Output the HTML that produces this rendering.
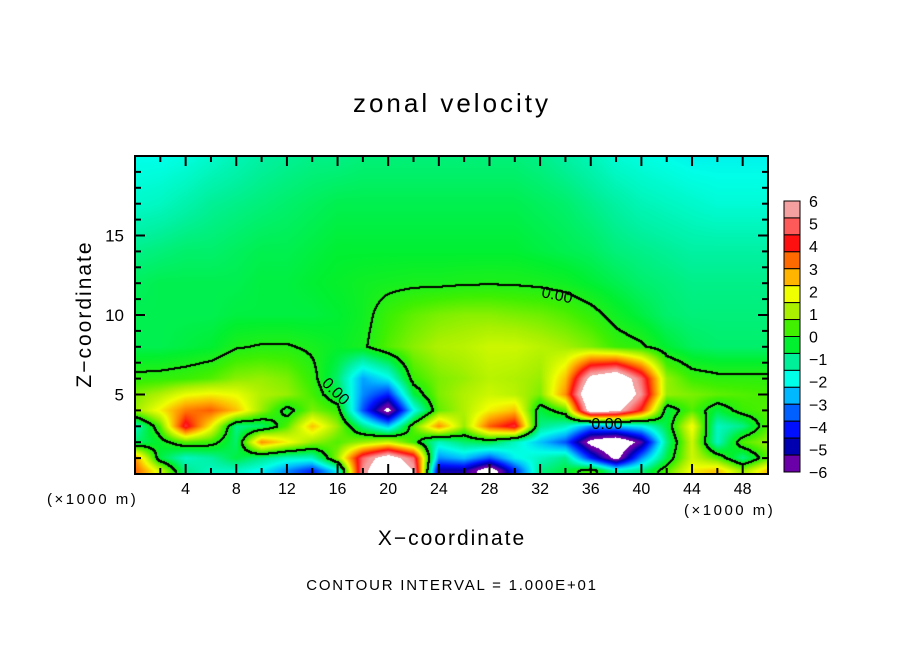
<!DOCTYPE html>
<html><head><meta charset="utf-8">
<style>
body{margin:0;background:#fff;}
#wrap{position:relative;width:904px;height:654px;overflow:hidden;font-family:"Liberation Sans",sans-serif;color:#000;}
.t{position:absolute;white-space:nowrap;}
</style></head>
<body>
<div id="wrap">
<div class="t" style="left:0;width:904px;top:88px;text-align:center;font-size:26px;letter-spacing:3px;">zonal velocity</div>
<canvas id="cv" width="904" height="654" style="position:absolute;left:0;top:0;"></canvas>
<svg id="sv" width="904" height="654" style="position:absolute;left:0;top:0;"></svg>
<div class="t" style="left:47px;top:491px;font-size:15px;letter-spacing:2.5px;">(×1000 m)</div>
<div class="t" style="left:684px;top:502px;font-size:15px;letter-spacing:2.5px;">(×1000 m)</div>
<div class="t" style="left:0;width:904px;text-align:center;top:527px;font-size:21px;letter-spacing:2px;">X−coordinate</div>
<div class="t" style="left:-15px;top:302px;width:200px;text-align:center;font-size:21px;letter-spacing:2px;transform:rotate(-90deg);">Z−coordinate</div>
<div class="t" style="left:0;width:904px;text-align:center;top:577px;font-size:15px;letter-spacing:1.8px;">CONTOUR INTERVAL = 1.000E+01</div>
</div>
<script>
const xCoords=[0,2,4,6,8,10,12,14,16,18,20,22,24,26,28,30,32,34,36,38,40,42,44,46,48,50];
const zLevels=[0.2,1,2,3,4,5,6,8,10,12,14,17,20];
const row_z0=[3.5,1.5,-1.0,-1.5,-1.5,-2,-3,-4,-2,5.5,8,6,-5,-5,-7,-4,-1.0,-0.5,0.5,-1.5,-1.0,0.5,2.0,2.5,1.0,2.5];
const row_z1=[3.0,-0.5,-1.5,-1.2,-0.5,-1.0,-1.5,-1.5,1.0,5.0,7,5,-3,-2.5,-3.5,-2.0,-1.5,-1.0,-4,-6.5,-3,-0.5,1.5,0.5,-1.0,0.5];
const row_z2=[-0.8,-0.3,0.5,0.3,-0.8,3.0,2.0,1.0,0.5,1.0,1.5,0.3,-1.5,-0.8,-0.5,-1.5,-2.5,-3.5,-6.5,-7.5,-5.5,-1.0,1.5,-1.5,0.5,1.0];
const row_z3=[-1.5,0.5,4.5,2.0,-1.0,-0.8,0.5,2.5,1.0,-1.0,-2.5,0.5,3.0,1.0,3.5,4.5,-1.0,-1.5,-3.0,-2.5,-2.0,-0.5,2.0,-1.5,-1.0,0.5];
const row_z4=[1.0,2.0,3.2,3.5,2.5,1.0,-0.3,0.8,0.3,-3.5,-6.5,-2.0,0.6,1.2,2.0,2.5,-0.5,0.5,7,6.5,4.0,-0.5,0.5,-0.5,0.3,0.5];
const row_z5=[0.8,1.2,1.8,2.0,1.8,1.2,1.0,0.4,-0.5,-3.0,-4.0,-0.5,0.8,1.2,1.5,1.3,0.8,3.0,8,8,5.5,1.0,0.8,0.6,0.5,0.4];
const row_z6=[0.15,0.2,0.3,0.5,0.9,1.0,0.8,0.2,-0.8,-2.8,-2.0,0.3,0.8,1.0,1.3,1.2,1.0,2.5,6.5,7.5,5.0,1.0,0.3,0.15,0.15,0.15];
const row_z8=[-0.6,-0.6,-0.5,-0.4,-0.05,0.05,0.05,-0.1,-0.3,-0.1,0.5,0.9,1.2,1.3,1.5,1.5,1.3,1.1,0.8,0.3,0.1,-0.4,-0.7,-0.8,-0.8,-0.8];
const row_z10=[-0.6,-0.6,-0.6,-0.6,-0.5,-0.5,-0.5,-0.5,-0.4,-0.2,0.3,0.6,0.8,0.9,0.9,0.8,0.7,0.5,0.2,-0.2,-0.5,-0.8,-0.9,-0.9,-0.9,-0.9];
const row_z12=[-0.7,-0.6,-0.6,-0.6,-0.6,-0.5,-0.5,-0.4,-0.3,-0.2,-0.15,-0.1,-0.1,-0.05,-0.03,-0.05,-0.1,-0.2,-0.4,-0.6,-0.8,-0.9,-1.0,-1.0,-1.0,-1.0];
const row_z14=[-1.0,-0.9,-0.8,-0.8,-0.7,-0.6,-0.6,-0.5,-0.4,-0.4,-0.4,-0.4,-0.4,-0.4,-0.4,-0.4,-0.5,-0.6,-0.7,-0.9,-1.0,-1.1,-1.2,-1.2,-1.2,-1.2];
const row_z17=[-1.6,-1.5,-1.3,-1.1,-1.0,-0.9,-0.8,-0.7,-0.6,-0.6,-0.6,-0.6,-0.6,-0.6,-0.6,-0.6,-0.7,-0.8,-1.0,-1.2,-1.4,-1.5,-1.6,-1.7,-1.7,-1.7];
const row_z20=[-1.9,-1.9,-1.8,-1.6,-1.4,-1.2,-1.1,-1.0,-1.0,-0.9,-0.9,-0.9,-0.9,-0.9,-0.9,-0.9,-1.0,-1.2,-1.4,-1.7,-1.8,-1.9,-2.0,-2.0,-2.0,-2.0];
const field=[row_z0,row_z1,row_z2,row_z3,row_z4,row_z5,row_z6,row_z8,row_z10,row_z12,row_z14,row_z17,row_z20];
const xTicks=[4,8,12,16,20,24,28,32,36,40,44,48];
const yTicks=[5,10,15];
const cbLabels=[6,5,4,3,2,1,0,-1,-2,-3,-4,-5,-6];
const bandColors=["#f4a0a0","#ff5a5a","#ff1010","#ff6a00","#ffb400","#f0ff00","#a8f000","#40f000","#00f030","#00f09a","#00ffe8","#00b8ff","#0060ff","#0010ff","#0000b0","#6a00a8"];

const PL=135,PT=156,PW=633,PH=318;
const X0=0,X1=50,Z0=0,Z1=20;
const sx=x=>PL+(x-X0)/(X1-X0)*PW;
const sy=z=>PT+PH-(z-Z0)/(Z1-Z0)*PH;
function hex(c){return [parseInt(c.substr(1,2),16),parseInt(c.substr(3,2),16),parseInt(c.substr(5,2),16)];}
const bandRGB=bandColors.map(hex);
function color(v){
  if(v>6||v<-6) return [255,255,255];
  let f=(6-v)/0.75-0.5;
  if(f<=0) return bandRGB[0];
  if(f>=15) return bandRGB[15];
  const i=Math.floor(f),t=f-i;
  const a=bandRGB[i],b=bandRGB[i+1];
  return [a[0]+(b[0]-a[0])*t,a[1]+(b[1]-a[1])*t,a[2]+(b[2]-a[2])*t];
}
function sample(x,z){
  let xi=(x-xCoords[0])/(xCoords[1]-xCoords[0]);
  xi=Math.max(0,Math.min(xCoords.length-1.0001,xi));
  const i=Math.floor(xi),tx=xi-i;
  let j=0,tz;
  if(z<=zLevels[0]){j=0;tz=0;}
  else if(z>=zLevels[zLevels.length-1]){j=zLevels.length-2;tz=1;}
  else{while(zLevels[j+1]<z)j++;tz=(z-zLevels[j])/(zLevels[j+1]-zLevels[j]);}
  const a=field[j][i]*(1-tx)+field[j][i+1]*tx;
  const b=field[j+1][i]*(1-tx)+field[j+1][i+1]*tx;
  return a*(1-tz)+b*tz;
}
const cv=document.getElementById('cv');
const ctx=cv.getContext('2d');
const img=ctx.createImageData(PW,PH);
const vals=new Float32Array(PW*PH);
for(let py=0;py<PH;py++){
  const z=Z1-(py+0.5)/PH*(Z1-Z0);
  for(let px=0;px<PW;px++){
    const x=X0+(px+0.5)/PW*(X1-X0);
    const v=sample(x,z);
    vals[py*PW+px]=v;
    const c=color(v);const k=(py*PW+px)*4;
    img.data[k]=c[0];img.data[k+1]=c[1];img.data[k+2]=c[2];img.data[k+3]=255;
  }
}
ctx.putImageData(img,PL,PT);
ctx.fillStyle="#000";
for(let py=0;py<PH-1;py++){
  for(let px=0;px<PW-1;px++){
    const v=vals[py*PW+px];
    if((v>0)!==(vals[py*PW+px+1]>0)||(v>0)!==(vals[(py+1)*PW+px]>0)){
      ctx.fillRect(PL+px,PT+py,2,2);
    }
  }
}
const NS="http://www.w3.org/2000/svg";
const sv=document.getElementById('sv');
function mk(tag,attrs){const e=document.createElementNS(NS,tag);for(const k in attrs)e.setAttribute(k,attrs[k]);return e;}
let fr=mk('rect',{x:PL,y:PT,width:PW,height:PH,fill:'none',stroke:'#000','stroke-width':2});


sv.appendChild(fr);
for(let x=2;x<50;x+=2){
  const L=(x%4===0)?10:6;
  [[PT+PH,PT+PH-L],[PT,PT+L]].forEach(p=>{
    const t=mk('line',{x1:sx(x),x2:sx(x),y1:p[0],y2:p[1],stroke:'#000','stroke-width':2});
    
    
    sv.appendChild(t);
  });
}
xTicks.forEach(x=>{
  const t=mk('text',{x:sx(x),y:494,'text-anchor':'middle','font-size':16,'font-family':'Liberation Sans, sans-serif'});
  t.textContent=x;
  
  
  sv.appendChild(t);
});
for(let z=1;z<20;z++){
  const L=(z%5===0)?10:6;
  [[PL,PL+L],[PL+PW,PL+PW-L]].forEach(p=>{
    const t=mk('line',{y1:sy(z),y2:sy(z),x1:p[0],x2:p[1],stroke:'#000','stroke-width':2});
    
    
    sv.appendChild(t);
  });
}
yTicks.forEach(z=>{
  const t=mk('text',{x:124,y:sy(z)+6,'text-anchor':'end','font-size':17,'font-family':'Liberation Sans, sans-serif'});
  t.textContent=z;
  
  
  sv.appendChild(t);
});
[[557,296,12],[335,392,45],[607,425,0]].forEach(p=>{
  const t=mk('text',{x:p[0],y:p[1],'text-anchor':'middle','dominant-baseline':'middle','font-size':16,'font-family':'Liberation Sans, sans-serif',transform:`rotate(${p[2]} ${p[0]} ${p[1]})`});
  t.textContent='0.00';
  
  
  sv.appendChild(t);
});
const CBX=784,CBT=201,CBH=271,CBW=16;
const bh=CBH/bandColors.length;
bandColors.forEach((c,i)=>{
  const r=mk('rect',{x:CBX,y:CBT+i*bh,width:CBW,height:bh,fill:c,stroke:'#000','stroke-width':1});
  
  
  sv.appendChild(r);
});
cbLabels.forEach(v=>{
  const t=mk('text',{x:809,y:CBT+(6-v)/12*CBH+6,'font-size':16,'font-family':'Liberation Sans, sans-serif'});
  t.textContent=v<0?('−'+(-v)):v;
  
  
  sv.appendChild(t);
});
</script>
</body></html>
